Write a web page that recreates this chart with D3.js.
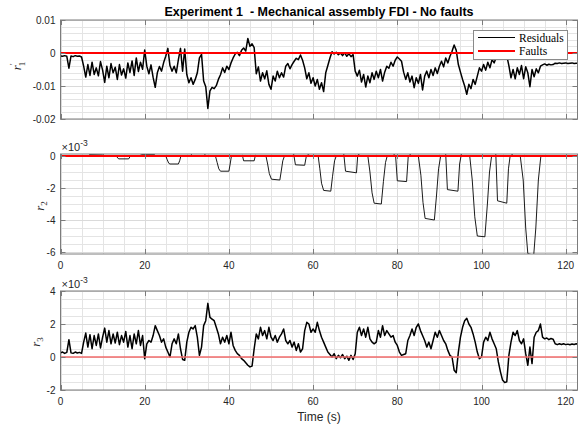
<!DOCTYPE html>
<html><head><meta charset="utf-8">
<script src="https://cdn.jsdelivr.net/npm/d3@7"></script>
<style>body{margin:0;background:#fff} svg{display:block}</style>
</head><body><svg id="c" width="582" height="428"></svg>
<script>
// ---------------- data ----------------
const T_STEP = 0.5; // seconds between samples of r1 and r3
// r'_1 residual, units of 1e-3
const r1 = [-0.9,-1.0,-0.8,-1.0,-4.6,-0.9,-1.1,-0.8,-1.0,-0.9,-1.2,-4.0,-7.3,-3.5,-6.8,-2.8,-6.5,-4.5,-6.9,-2.6,
-5.2,-8.9,-4.0,-7.5,-3.2,-6.0,-4.3,-8.0,-3.5,-6.7,-4.8,-7.6,-3.0,-5.9,-2.4,-6.8,-1.5,-5.6,-2.8,-4.9,
0.9,-4.0,-6.3,-3.6,-7.4,-10.4,-6.0,-4.1,-5.5,-2.9,-1.0,1.4,-3.8,-5.5,-4.0,-6.0,-2.0,1.4,-5.5,1.2,
-6.5,-9.0,-7.5,-9.5,-8.0,-6.0,-1.5,-0.4,-8.5,-10.2,-16.8,-11.5,-10.4,-10.8,-9.9,-8.0,-6.6,-4.5,-5.9,-4.0,
-5.0,-3.0,-1.5,-0.3,0.2,-0.8,0.8,1.5,0.6,4.4,2.0,2.8,1.6,-6.3,-4.2,-8.5,-6.0,-7.8,-5.4,-9.5,
-11.0,-7.0,-8.5,-5.5,-7.5,-6.0,-7.3,-4.0,-3.2,-4.8,-3.5,-2.5,-1.6,-2.0,-0.6,-2.2,-4.5,-7.8,-6.0,-9.2,
-7.5,-10.0,-8.0,-11.0,-9.0,-11.7,-6.0,-3.8,-1.5,0.4,-0.3,0.2,-0.5,0.0,-0.8,0.1,-1.0,-0.2,-1.1,-0.5,
-5.5,-7.0,-5.2,-8.8,-6.5,-10.3,-7.0,-9.0,-6.0,-8.0,-5.5,-7.5,-5.0,-8.5,-5.8,-4.0,-4.6,-2.8,-4.0,-2.2,
-1.2,-1.8,-2.5,-5.8,-8.0,-6.0,-8.8,-7.0,-10.5,-7.5,-9.2,-6.5,-11.2,-7.0,-5.5,-7.5,-5.0,-6.8,-4.5,-6.2,
-4.0,-2.5,-4.2,-1.5,-3.0,-1.0,0.5,2.4,0.8,-3.5,-5.8,-8.0,-10.0,-12.5,-9.5,-10.8,-8.0,-9.5,-7.0,-4.5,
-5.5,-3.5,-5.2,-2.8,-4.5,-2.0,-3.0,-1.2,-0.3,0.5,-0.5,0.3,-0.8,-3.8,-7.5,-5.0,-7.8,-4.5,-6.5,-3.8,
-7.8,-4.2,-6.0,-10.2,-5.0,-7.2,-4.8,-6.0,-4.0,-3.6,-3.3,-3.7,-3.4,-3.6,-3.5,-3.1,-3.2,-3.0,-3.2,-3.1,
-3.0,-3.2,-3.1,-3.0,-3.2,-3.1,-3.1];
// r_3 residual, units of 1e-3
const r3 = [0.25,0.3,0.22,0.28,1.05,0.25,0.22,0.3,0.24,0.28,0.22,0.9,1.45,0.6,1.35,0.5,1.3,0.7,1.4,0.55,
1.2,1.75,0.9,1.6,0.8,1.4,0.85,1.5,0.75,1.3,0.9,1.55,0.6,1.3,0.5,1.4,0.8,1.6,0.7,1.3,
-0.1,0.8,1.0,0.9,1.3,1.9,1.6,1.3,0.9,1.1,0.6,0.3,0.0,0.8,1.1,0.8,1.4,0.5,-0.15,-0.2,
0.9,1.5,1.8,1.7,1.9,1.2,0.1,0.6,1.9,2.2,3.25,2.4,2.3,2.2,1.8,1.4,0.8,1.2,0.9,1.3,
0.8,1.5,0.7,0.4,0.2,0.1,-0.1,-0.2,-0.35,-0.5,-0.6,-0.55,0.5,1.4,1.1,1.8,1.3,1.6,1.1,1.8,
1.2,1.0,1.3,0.9,1.2,1.4,1.7,1.0,0.8,1.0,0.6,0.9,0.4,0.8,0.3,0.5,1.6,2.1,2.0,1.5,
1.7,1.5,2.1,1.6,1.2,0.9,0.6,0.3,0.15,0.0,0.2,-0.1,0.1,-0.05,0.15,-0.1,0.05,-0.2,0.1,-0.15,
0.2,1.5,1.8,1.3,1.7,1.2,1.8,1.1,0.9,0.8,0.9,1.6,1.2,1.9,1.3,1.6,1.4,1.2,1.3,0.9,
0.7,0.3,0.1,0.15,0.2,1.0,1.3,1.7,1.3,1.8,2.0,1.6,1.3,1.0,0.6,0.9,0.5,1.0,1.5,1.2,
1.6,1.3,1.0,0.8,0.4,0.1,0.0,-0.8,-0.95,0.3,1.2,1.8,2.2,2.35,2.0,1.8,1.4,0.9,0.3,-0.1,
0.0,0.9,1.2,1.0,1.5,1.1,0.8,0.5,-0.3,-0.9,-1.4,-1.55,-1.5,0.1,0.9,1.5,1.3,1.6,1.0,0.8,
1.1,0.2,-0.5,0.6,-0.4,1.2,1.5,1.6,2.0,1.2,1.1,1.15,1.05,1.12,1.08,0.8,0.75,0.8,0.76,0.8,
0.75,0.78,0.74,0.79,0.76,0.8,0.75];
// r_2 residual as [time s, value ×1e-3]
const r2 = [[0,0],[6.5,0],[7,0.1],[10,0.12],[10.5,0],
[13.2,0],[13.8,-0.18],[16.2,-0.18],[16.6,0],
[18.8,0],[19.2,0.1],[22.3,0.1],[22.6,0],
[25.0,0],[25.3,-0.2],[25.7,-0.45],[26,-0.5],[28.0,-0.5],[28.3,-0.3],[28.6,0],
[30.8,0],[31.1,0.1],[31.4,0],[34,0],[34.3,0.1],[34.6,0],
[36.8,0],[37.2,-0.4],[37.6,-0.8],[38,-0.95],[40.0,-0.95],[40.3,-0.5],[40.6,0],
[42.9,0],[43.2,0.05],[43.5,-0.3],[46.0,-0.3],[46.3,0.05],[46.6,0],
[48.8,0],[49.2,-0.5],[49.6,-1.1],[50.1,-1.45],[52.1,-1.5],[52.4,-1.0],[52.8,-0.3],[53.2,0],
[55.1,0],[55.4,0.1],[55.8,-0.55],[58.0,-0.58],[58.4,0],[58.9,0.1],[59.3,0],
[61.2,0],[61.6,-0.8],[62,-1.7],[62.5,-2.15],[64.2,-2.2],[64.6,-1.3],[65.1,-0.3],[65.5,0],
[67.0,0],[67.3,0.1],[67.7,-0.95],[70.3,-1.05],[70.6,0.05],[70.9,0.1],[71.2,0],
[73,0],[73.5,-1.0],[74,-2.3],[74.5,-2.95],[76.2,-3.0],[76.7,-1.6],[77.2,-0.4],[77.6,0],
[78.9,0],[79.2,0.1],[79.6,0],[80,-1.55],[82.2,-1.6],[82.6,0],[83.1,0.1],[83.5,0],
[85,0],[85.6,-1.2],[86.1,-2.9],[86.6,-3.9],[88.8,-4.0],[89.3,-2.5],[89.8,-0.8],[90.3,0],
[91.2,0],[91.5,0.1],[91.9,-2.1],[94.4,-2.2],[94.8,-0.5],[95.2,0.1],[95.5,0],
[97.2,0],[97.8,-1.5],[98.4,-3.8],[99,-5.0],[100.8,-5.05],[101.4,-3.0],[101.9,-1.0],[102.4,0],
[103.1,0],[103.4,0.1],[103.8,-2.8],[106.0,-2.95],[106.4,-0.8],[106.8,0],[107.3,0.1],[107.7,0],
[109.2,0],[109.9,-1.5],[110.5,-4.5],[111,-6.1],[112.4,-6.2],[112.9,-4.5],[113.5,-1.5],[114.1,0],
[122.8,0]];
const faultLevel = 0;
const xTicks = [0,20,40,60,80,100,120];
const y1Ticks = [-0.02,-0.01,0,0.01];
const y2Ticks = [-6,-4,-2,0];
const y3Ticks = [-2,0,2,4];
const titleText = "Experiment 1  - Mechanical assembly FDI - No faults";
const legendLabels = ["Residuals","Faults"];

// ---------------- drawing ----------------
const svg = d3.select("#c");
const L = 60.5, R = 577.5;
const x = d3.scaleLinear().domain([0,122.8]).range([L,R]);
const sansF = "'Liberation Sans', Arial, Helvetica, sans-serif";
const serifF = "'Liberation Serif', 'Times New Roman', serif";
const axisCol = "#7c7c7c", textCol = "#262626";

const panels = [
  {id:"p1", top:20, bot:119, dom:[-0.02,0.01], ticks:y1Ticks, minor:0.002,
   data:r1.map((v,i)=>[i*T_STEP, v*1e-3]), xLabels:false, exp:false, red:"#ff0000", redW:2, lw:1.5},
  {id:"p2", top:154, bot:254, dom:[-6.125,0.125], ticks:y2Ticks, minor:0.5,
   data:r2.map(d=>[d[0],d[1]]), xLabels:true, exp:true, red:"#ff0000", redW:2, lw:0.9},
  {id:"p3", top:291, bot:390, dom:[-2,4], ticks:y3Ticks, minor:0.5,
   data:r3.map((v,i)=>[i*T_STEP, v]), xLabels:true, exp:true, red:"#f26b6b", redW:1.4, lw:1.5}
];

panels.forEach(p=>{
  const y = d3.scaleLinear().domain(p.dom).range([p.bot,p.top]);
  const g = svg.append("g");
  g.append("rect").attr("x",L).attr("y",p.top).attr("width",R-L).attr("height",p.bot-p.top).attr("fill","#fff");
  g.append("clipPath").attr("id","cl"+p.id).append("rect")
    .attr("x",L).attr("y",p.top).attr("width",R-L).attr("height",p.bot-p.top);
  // minor grid
  const xMinor = d3.range(0,123,5).filter(v=>!xTicks.includes(v));
  g.selectAll(".xm").data(xMinor).join("line")
    .attr("x1",d=>Math.round(x(d))+0.5).attr("x2",d=>Math.round(x(d))+0.5)
    .attr("y1",p.top).attr("y2",p.bot).attr("stroke","#e4e4e4").attr("stroke-width",1);
  const nMin = Math.round((p.dom[1]-p.dom[0])/p.minor)+2;
  const start = Math.ceil(p.dom[0]/p.minor - 1e-6);
  const yMinor = d3.range(start, start+nMin).map(k=>+(k*p.minor).toFixed(6))
    .filter(v=>v>=p.dom[0]-1e-9 && v<=p.dom[1]+1e-9 && !p.ticks.some(t=>Math.abs(t-v)<1e-9));
  g.selectAll(".ym").data(yMinor).join("line")
    .attr("x1",L).attr("x2",R).attr("y1",d=>Math.round(y(d))+0.5).attr("y2",d=>Math.round(y(d))+0.5)
    .attr("stroke","#e4e4e4").attr("stroke-width",1);
  // major grid
  g.selectAll(".xg").data(xTicks).join("line")
    .attr("x1",d=>Math.round(x(d))+0.5).attr("x2",d=>Math.round(x(d))+0.5)
    .attr("y1",p.top).attr("y2",p.bot).attr("stroke","#dadada").attr("stroke-width",1);
  g.selectAll(".yg").data(p.ticks).join("line")
    .attr("x1",L).attr("x2",R).attr("y1",d=>Math.round(y(d))+0.5).attr("y2",d=>Math.round(y(d))+0.5)
    .attr("stroke","#dadada").attr("stroke-width",1);
  // data
  const line = d3.line().x(d=>x(d[0])).y(d=>y(d[1]));
  const dg = g.append("g").attr("clip-path","url(#cl"+p.id+")");
  dg.append("path").datum(p.data).attr("d",line).attr("fill","none")
    .attr("stroke","#000").attr("stroke-width",p.lw).attr("stroke-linejoin","round");
  dg.append("line").attr("x1",L).attr("x2",R).attr("y1",y(faultLevel)).attr("y2",y(faultLevel))
    .attr("stroke",p.red).attr("stroke-width",p.redW);
  // frame
  g.append("rect").attr("x",L).attr("y",p.top).attr("width",R-L).attr("height",p.bot-p.top)
    .attr("fill","none").attr("stroke",axisCol).attr("stroke-width",1);
  // ticks (inward)
  const tl = 5;
  xTicks.forEach(t=>{
    const xx = Math.round(x(t))+0.5;
    g.append("line").attr("x1",xx).attr("x2",xx).attr("y1",p.bot).attr("y2",p.bot-tl).attr("stroke",axisCol);
    g.append("line").attr("x1",xx).attr("x2",xx).attr("y1",p.top).attr("y2",p.top+tl).attr("stroke",axisCol);
  });
  p.ticks.forEach(t=>{
    const yy = Math.round(y(t))+0.5;
    g.append("line").attr("x1",L).attr("x2",L+tl).attr("y1",yy).attr("y2",yy).attr("stroke",axisCol);
    g.append("line").attr("x1",R).attr("x2",R-tl).attr("y1",yy).attr("y2",yy).attr("stroke",axisCol);
    g.append("text").attr("x",L-5).attr("y",y(t)+3.6).attr("text-anchor","end")
      .attr("font-family",sansF).attr("font-size",10).attr("fill",textCol).text(String(t));
  });
  if (p.xLabels) {
    xTicks.forEach(t=>{
      g.append("text").attr("x",x(t)).attr("y",p.bot+15).attr("text-anchor","middle")
        .attr("font-family",sansF).attr("font-size",10).attr("fill",textCol).text(String(t));
    });
  }
  if (p.exp) {
    const e = g.append("text").attr("x",L+1).attr("y",p.top-3).attr("font-family",sansF)
      .attr("font-size",11).attr("fill",textCol);
    e.append("tspan").text("\u00d710");
    e.append("tspan").attr("dy",-5).attr("font-size",8.5).text("-3");
  }
});

// y labels
function ylab(xp, yc, sub, prime){
  const t = svg.append("text").attr("transform",`translate(${xp},${yc}) rotate(-90)`)
    .attr("text-anchor","middle").attr("font-family",serifF).attr("font-style","italic")
    .attr("font-size",13).attr("fill",textCol);
  t.append("tspan").text("r");
  if (prime) {
    t.append("tspan").attr("dy",-5).attr("font-size",9).attr("font-style","normal").text("\u2032");
    t.append("tspan").attr("dx",-3).attr("dy",9).attr("font-size",9).attr("font-style","normal").text(sub);
  } else {
    t.append("tspan").attr("dy",3).attr("font-size",9).attr("font-style","normal").text(sub);
  }
}
ylab(21, 66, "1", true);
ylab(44, 206, "2", false);
ylab(40, 342, "3", false);

// title
svg.append("text").attr("x",(L+R)/2).attr("y",16).attr("text-anchor","middle")
  .attr("font-family",sansF).attr("font-weight","bold").attr("font-size",12.5).attr("fill","#000")
  .style("white-space","pre").attr("xml:space","preserve")
  .text(titleText);
// x label
svg.append("text").attr("x",(L+R)/2).attr("y",421).attr("text-anchor","middle")
  .attr("font-family",sansF).attr("font-size",12).attr("fill",textCol).text("Time (s)");

// legend
const lg = svg.append("g");
lg.append("rect").attr("x",473.5).attr("y",30.5).attr("width",94).attr("height",29)
  .attr("fill","#fff").attr("stroke","#8a8a8a").attr("stroke-width",1);
const legCols = ["#000","#ff0000"], legW = [1,2];
legendLabels.forEach((lab,i)=>{
  const yy = 37.5 + i*13.5;
  lg.append("line").attr("x1",478).attr("x2",515).attr("y1",yy).attr("y2",yy)
    .attr("stroke",legCols[i]).attr("stroke-width",legW[i]);
  lg.append("text").attr("x",519).attr("y",yy+4).attr("font-family",serifF)
    .attr("font-size",11.5).attr("fill","#000").text(lab);
});
</script></body></html>
